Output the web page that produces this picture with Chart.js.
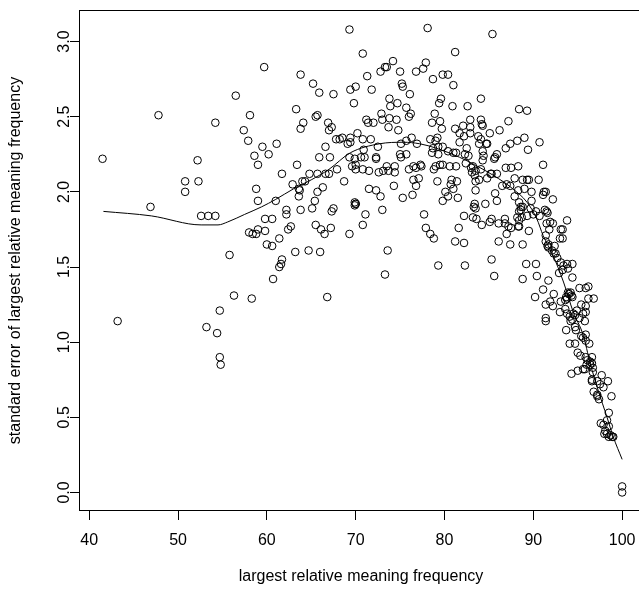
<!DOCTYPE html>
<html>
<head>
<meta charset="utf-8">
<title>standard error vs largest relative meaning frequency</title>
<script src="https://cdn.jsdelivr.net/npm/chart.js@4.4.1/dist/chart.umd.min.js"></script>
<style>
  html, body { margin: 0; padding: 0; background: #fff; overflow: hidden; }
  #wrap { position: absolute; left: 0; top: 0; width: 660px; height: 592px; }
</style>
</head>
<body>
<div id="wrap"><canvas id="chart" width="660" height="592"></canvas></div>
<script>
// tick positions and axis titles
const xTicks = [40, 50, 60, 70, 80, 90, 100];
const yTicks = [0, 0.5, 1, 1.5, 2, 2.5, 3];
const xTitle = 'largest relative meaning frequency';
const yTitle = 'standard error of largest relative meaning frequency';

// observations: [largest relative meaning frequency, standard error]
const observations = [
  [41.5,2.22],[47.8,2.51],[52.2,2.21],[54.2,2.46],[56.5,2.64],[58.1,2.51],[59.7,2.83],[57.4,2.41],[57.9,2.34],[59.5,2.30],
  [58.6,2.24],[60.2,2.25],[59.0,2.18],[61.1,2.32],[50.8,2.07],[52.3,2.07],[50.8,2.00],[58.8,2.02],[59.0,1.94],[61.0,1.94],
  [46.9,1.90],[52.6,1.84],[53.4,1.84],[54.2,1.84],[59.8,1.82],[60.6,1.82],[58.0,1.73],[58.4,1.72],[58.8,1.72],[59.0,1.75],
  [59.8,1.74],[60.0,1.65],[60.6,1.64],[55.8,1.58],[60.7,1.42],[56.3,1.31],[58.3,1.29],[54.7,1.21],[43.2,1.14],[53.2,1.10],
  [54.4,1.06],[54.7,0.90],[54.8,0.85],[61.4,1.69],[61.7,1.55],[61.6,1.52],[61.4,1.50],

  [69.3,3.08],[78.1,3.09],[70.8,2.92],[81.2,2.93],[63.8,2.78],[65.2,2.72],[65.9,2.66],[67.5,2.65],[69.4,2.68],[70.0,2.70],
  [71.3,2.77],[71.8,2.68],[69.8,2.59],[72.8,2.80],[73.3,2.83],[73.5,2.83],[74.2,2.87],[75.0,2.80],[75.2,2.72],[75.3,2.70],
  [76.1,2.65],[76.8,2.80],[77.6,2.82],[77.9,2.86],[78.7,2.75],[79.8,2.78],[80.4,2.78],[81.0,2.71],[80.9,2.57],[79.6,2.62],
  [79.4,2.59],[63.3,2.55],[64.1,2.46],[63.8,2.42],[65.5,2.50],[65.7,2.51],[66.9,2.46],[67.3,2.43],[67.0,2.41],[73.8,2.62],
  [73.9,2.57],[74.7,2.59],[75.7,2.56],[76.2,2.52],[76.0,2.50],[71.2,2.48],[71.4,2.46],[72.0,2.46],[72.9,2.52],[73.0,2.48],
  [73.8,2.49],[74.6,2.48],[73.7,2.43],[74.8,2.41],[78.9,2.52],[79.5,2.47],[78.6,2.46],[79.7,2.42],[81.2,2.42],[61.7,2.12],
  [63.4,2.18],[65.9,2.23],[67.1,2.23],[66.6,2.30],[67.8,2.35],[68.2,2.35],[68.5,2.36],[69.1,2.32],[69.4,2.33],[69.4,2.36],
  [70.2,2.39],[70.8,2.35],[71.7,2.35],[70.9,2.28],[72.5,2.30],[69.3,2.23],[69.9,2.22],[70.0,2.18],[70.6,2.23],[71.0,2.23],
  [72.3,2.23],[72.3,2.22],[69.6,2.17],[70.0,2.15],[70.8,2.15],[71.5,2.14],[72.6,2.13],[73.1,2.14],[73.5,2.17],[74.4,2.17],
  [74.4,2.13],[75.1,2.32],[75.7,2.34],[76.3,2.36],[76.9,2.32],[75.0,2.25],[75.1,2.23],[75.7,2.25],[76.5,2.17],[77.3,2.18],
  [76.0,2.15],[76.8,2.16],[77.4,2.17],[78.4,2.35],[78.7,2.29],[79.0,2.34],[79.2,2.36],[79.3,2.30],[79.8,2.30],[78.6,2.26],
  [79.3,2.25],[79.0,2.17],[78.8,2.15],[79.5,2.18],[79.8,2.18],[80.4,2.27],[81.3,2.26],[81.0,2.26],[80.6,2.17],[81.3,2.17],
  [64.8,2.12],[65.7,2.12],[66.6,2.12],[67.0,2.12],[67.9,2.15],

  [85.4,3.05],[82.6,2.57],[84.1,2.62],[88.4,2.55],[89.3,2.54],[87.2,2.47],[86.2,2.41],[85.1,2.39],[82.9,2.48],[84.1,2.48],
  [84.2,2.45],[84.3,2.44],[82.1,2.44],[81.7,2.39],[82.9,2.43],[82.9,2.39],[82.2,2.37],[83.8,2.37],[83.9,2.32],[84.1,2.35],
  [84.7,2.32],[84.8,2.32],[81.7,2.33],[82.5,2.29],[82.3,2.25],[82.7,2.24],[86.9,2.29],[87.4,2.32],[88.2,2.34],[89.0,2.36],
  [90.7,2.33],[89.4,2.28],[84.3,2.27],[84.4,2.24],[84.3,2.21],[85.6,2.22],[85.9,2.25],[85.7,2.23],[82.4,2.19],[83.2,2.17],
  [83.1,2.13],[86.9,2.16],[87.5,2.16],[88.3,2.17],[91.1,2.18],[85.3,2.12],[85.9,2.12],

  [64.3,2.07],[64.0,2.07],[62.9,2.05],[63.6,2.02],[63.7,2.01],[63.6,1.97],[66.3,2.03],[65.7,2.00],[65.4,1.94],[68.7,2.07],
  [73.7,2.14],[74.3,2.04],[76.5,2.08],[77.1,2.09],[76.8,2.04],[76.4,1.98],[75.3,1.96],[71.5,2.02],[72.3,2.01],[72.8,1.97],
  [69.9,1.93],[70.0,1.92],[69.9,1.91],[70.0,1.92],[62.2,1.88],[62.2,1.85],[63.8,1.88],[65.1,1.89],[67.3,1.87],[67.5,1.89],
  [71.1,1.85],[73.0,1.88],[62.7,1.77],[62.4,1.75],[65.5,1.78],[66.1,1.75],[66.5,1.72],[67.2,1.76],[69.3,1.72],[70.8,1.78],
  [63.2,1.60],[64.7,1.61],[66.0,1.60],[66.8,1.30],[73.6,1.61],[73.3,1.45],[77.7,1.85],[77.9,1.76],[78.4,1.72],[78.8,1.69],
  [81.2,1.67],[81.6,1.76],[79.3,1.51],[79.2,2.07],[79.8,1.94],[80.4,1.97],[80.1,2.00],[80.7,2.05],[81.0,2.02],[80.8,2.08],
  [81.4,2.07],[81.5,1.96],

  [83.0,2.16],[83.5,2.14],[83.4,2.11],[83.9,2.08],[83.5,2.07],[84.1,2.15],[84.8,2.09],[85.2,2.12],[87.0,2.05],[86.5,2.04],
  [85.7,1.99],[85.9,1.94],[84.6,1.92],[83.5,2.01],[83.4,1.92],[83.3,1.90],[83.5,1.89],[82.2,1.84],[83.2,1.83],[83.6,1.82],
  [84.2,1.78],[85.1,1.80],[85.3,1.82],[82.2,1.66],[86.1,1.79],[86.8,1.82],[86.8,1.79],[87.2,1.77],[87.0,1.72],[87.5,1.76],
  [88.3,1.77],[88.2,1.83],[88.7,1.83],[87.9,2.09],[87.4,2.04],[88.3,2.01],[87.9,1.97],[88.8,2.08],[89.3,2.08],[89.5,2.08],
  [89.0,2.02],[89.8,2.00],[90.6,2.08],[91.1,1.98],[91.2,2.00],[91.4,2.00],[92.2,1.95],[89.8,1.94],[88.4,1.93],[88.6,1.90],
  [88.4,1.87],[88.8,1.90],[88.6,1.88],[89.7,1.89],[90.3,1.87],[90.0,1.85],[90.7,1.84],[91.3,1.88],[91.5,1.87],[91.6,1.86],
  [89.3,1.84],[89.5,1.74],[88.4,1.77],[88.4,1.81],[88.8,1.65],[87.4,1.65],[86.1,1.67],[91.5,1.79],[91.8,1.75],[91.9,1.80],
  [92.2,1.79],[93.1,1.75],[93.3,1.75],[93.8,1.81],[93.0,1.69],[93.3,1.69],[91.4,1.71],[91.4,1.67],[91.6,1.64],[91.7,1.65],
  [92.4,1.64],[91.7,1.63],[92.1,1.61],[92.3,1.59],[92.5,1.59],[82.3,1.51],[85.3,1.55],[85.6,1.44],[89.2,1.52],[90.3,1.52],
  [90.4,1.44],[88.8,1.42],[92.7,1.56],[93.1,1.53],[93.4,1.51],[93.8,1.52],[94.4,1.52],[92.9,1.46],[93.3,1.48],[93.9,1.49],
  [94.4,1.43],[91.7,1.41],[91.1,1.35],[90.2,1.30],[91.4,1.25],[92.2,1.24],[91.9,1.27],[92.3,1.32],[93.1,1.27],[93.6,1.28],
  [93.9,1.33],[94.0,1.32],[94.2,1.33],[94.3,1.31],[94.4,1.30],[93.7,1.30],[93.8,1.29],[95.2,1.36],[95.9,1.36],[96.2,1.37],
  [96.2,1.29],[96.8,1.29],[95.9,1.24],[95.4,1.25],[94.9,1.21],[95.6,1.19],[95.9,1.20],[95.2,1.16],[93.0,1.20],[93.6,1.22],
  [93.8,1.19],[94.1,1.17],[94.5,1.19],[94.7,1.18],[94.4,1.15],[94.2,1.14],[94.7,1.10],[95.8,1.14],[95.9,1.05],[93.7,1.08],
  [91.4,1.16],[91.4,1.14],[95.6,1.03],[95.4,1.04],

  [94.8,1.08],[95.9,1.01],[94.1,0.99],[94.7,0.99],[96.3,0.99],[95.0,0.93],[95.3,0.91],[95.9,0.90],[96.6,0.90],[96.1,0.88],
  [96.4,0.87],[96.6,0.86],[96.0,0.85],[96.4,0.85],[96.7,0.83],[95.8,0.82],[95.6,0.82],[94.3,0.79],[95.0,0.81],[96.7,0.80],
  [96.6,0.75],[96.6,0.74],[97.2,0.74],[97.7,0.78],[98.4,0.74],[97.5,0.72],[97.9,0.70],[96.8,0.67],[97.2,0.65],[97.2,0.64],
  [97.4,0.62],[98.8,0.64],[98.5,0.53],[98.3,0.48],[97.6,0.46],[97.9,0.45],[98.5,0.44],[98.1,0.41],[98.3,0.39],[98.7,0.38],
  [98.0,0.39],[98.9,0.37],[99.0,0.37],[98.5,0.37],[100.0,0.04],[100.0,0.00]
];

// smoothed curve
const fitX = [41.6, 47.0, 52.6, 54.5, 55.6, 57.5, 59.4, 61.0, 63.0, 65.0, 67.0, 69.4, 72.7, 75.4, 77.2, 79.1,
              81.7, 83.4, 85.5, 87.7, 89.3, 90.4, 91.1, 92.2, 93.4, 94.5, 95.6, 96.4, 97.3, 98.3, 99.0, 100.0];
const fitY = [1.87, 1.84, 1.78, 1.78, 1.80, 1.85, 1.90, 1.95, 2.02, 2.08, 2.15, 2.26, 2.32, 2.33, 2.32, 2.29,
              2.23, 2.18, 2.11, 2.02, 1.93, 1.82, 1.71, 1.58, 1.40, 1.20, 1.05, 0.86, 0.68, 0.50, 0.37, 0.22];

const baseFont = { family: "'Liberation Sans', Arial, Helvetica, sans-serif", size: 16, lineHeight: 1.2 };

// R style box around the plot region
const boxPlugin = {
  id: 'box',
  afterDraw(chart) {
    const a = chart.chartArea;
    const ctx = chart.ctx;
    ctx.save();
    ctx.strokeStyle = '#000';
    ctx.lineWidth = 1;
    ctx.strokeRect(a.left + 0.5, a.top + 0.5, a.right - a.left - 1, a.bottom - a.top - 1);
    ctx.restore();
  }
};

const axisGrid = { drawOnChartArea: false, drawTicks: true, tickLength: 9, color: '#000', lineWidth: 1 };

new Chart(document.getElementById('chart').getContext('2d'), {
  type: 'scatter',
  data: {
    datasets: [
      {
        data: observations.map(p => ({ x: p[0], y: p[1] })),
        pointStyle: 'circle',
        pointRadius: 3.8,
        pointHoverRadius: 3.8,
        pointBorderWidth: 1,
        pointBorderColor: '#000',
        pointBackgroundColor: 'rgba(0,0,0,0)',
        showLine: false
      },
      {
        data: fitX.map((x, i) => ({ x: x, y: fitY[i] })),
        showLine: true,
        borderColor: '#000',
        borderWidth: 1,
        pointRadius: 0,
        fill: false,
        cubicInterpolationMode: 'monotone'
      }
    ]
  },
  options: {
    responsive: false,
    animation: false,
    events: [],
    layout: { padding: { left: 0, top: 10, right: 17, bottom: 0 } },
    plugins: { legend: { display: false }, tooltip: { enabled: false } },
    scales: {
      x: {
        type: 'linear',
        min: 38.85,
        max: 102.35,
        afterBuildTicks: s => { s.ticks = xTicks.map(v => ({ value: v })); },
        afterFit: s => { s.height = 81; },
        grid: axisGrid,
        border: { display: false },
        ticks: { color: '#000', font: baseFont, padding: 11, maxRotation: 0, autoSkip: false,
                 callback: v => String(v) },
        title: { display: true, text: xTitle, color: '#000', font: baseFont, padding: { top: 0, bottom: 6 } }
      },
      y: {
        type: 'linear',
        min: -0.1235,
        max: 3.21,
        afterBuildTicks: s => { s.ticks = yTicks.map(v => ({ value: v })); },
        afterFit: s => { s.width = 79; },
        grid: axisGrid,
        border: { display: false },
        ticks: { color: '#000', font: baseFont, padding: -6, minRotation: 90, maxRotation: 90,
                 crossAlign: 'center', autoSkip: false, callback: v => v.toFixed(1) },
        title: { display: true, text: yTitle, color: '#000', font: baseFont, padding: { top: 6, bottom: 0 } }
      }
    }
  },
  plugins: [boxPlugin]
});
</script>
</body>
</html>
